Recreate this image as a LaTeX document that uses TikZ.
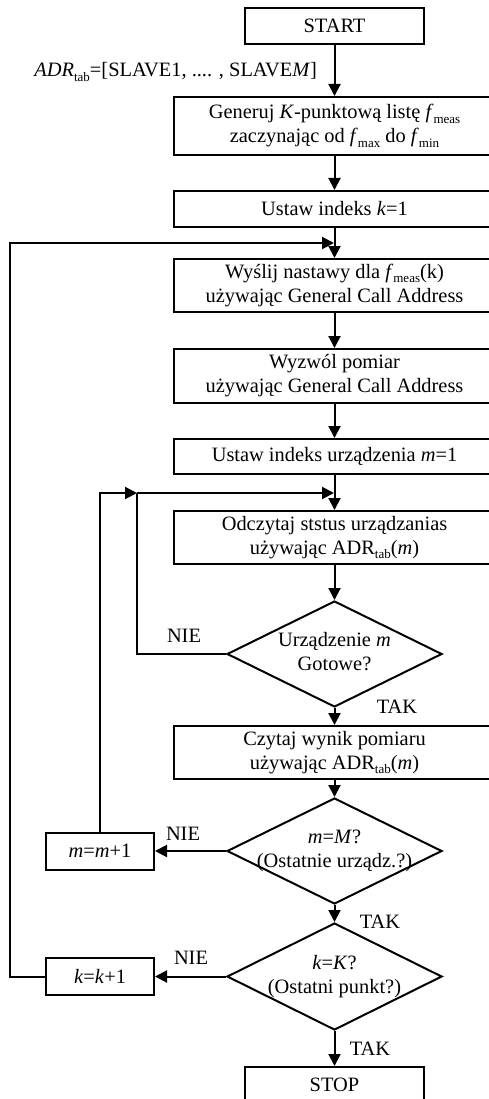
\documentclass[tikz,border=0pt]{standalone}
\usepackage{fontspec}
\setmainfont{Liberation Serif}
\usetikzlibrary{arrows.meta,positioning,shapes.geometric}

% text inside a decision: centred, takes no room, so the diamond keeps its size
\newcommand{\dlines}[1]{\makebox[0pt]{\raisebox{-5pt}[0pt][0pt]{\begin{tabular}{@{}c@{}}#1\end{tabular}}}}
% low, small index as in f_meas
\newcommand{\idx}[1]{\raisebox{-4.5pt}{\fontsize{13}{13}\selectfont #1}}

\begin{document}
\begin{tikzpicture}[x=1pt,y=-1pt,line width=2pt,
	font=\fontsize{20.4}{24}\selectfont,
	box/.style={rectangle,draw,minimum width=322pt,minimum height=36pt,align=center,inner sep=2pt},
	tall/.style={box,minimum height=54pt},
	term/.style={box,minimum width=179pt},
	small/.style={box,minimum width=108pt,minimum height=37pt},
	decision/.style={diamond,draw,minimum width=215pt,minimum height=106pt,inner sep=0pt},
	lbl/.style={inner sep=0pt},
	arr/.style={-{Triangle[length=12pt,width=12pt]}}]
				\useasboundingbox (0,0) rectangle (489,1099);
				\clip (0,0) rectangle (489,1099);

				% main column
				\node[term] (start) at (334.5,26) {START};
				\node[tall,minimum height=58pt] (gen) [below=51pt of start] {Generuj \textit{K}-punktową listę \textit{f}\idx{meas}\\zaczynając od \textit{f}\idx{max} do \textit{f}\idx{min}};
				\node[box] (ustk) [below=34pt of gen] {Ustaw indeks \textit{k}=1};
				\node[tall,minimum height=53pt] (wysl) [below=30pt of ustk] {Wyślij nastawy dla \textit{f}\idx{meas}(k)\\używając General Call Address};
				\node[tall] (wyzw) [below=35pt of wysl] {Wyzwól pomiar\\używając General Call Address};
				\node[box,minimum height=35pt] (ustm) [below=34pt of wyzw] {Ustaw indeks urządzenia \textit{m}=1};
				\node[tall,minimum height=53pt] (odcz) [below=35pt of ustm] {Odczytaj ststus urządzanias\\używając ADR\idx{tab}(\textit{m})};
				\node[decision] (gotowe) [below=35pt of odcz] {\dlines{Urządzenie \textit{m}\\Gotowe?}};
				\node[tall,minimum height=53pt] (czyt) [below=17pt of gotowe] {Czytaj wynik pomiaru\\używając ADR\idx{tab}(\textit{m})};
				\node[decision] (lastm) [below=17pt of czyt] {\dlines{\textit{m}=\textit{M}?\\(Ostatnie urządz.?)}};
				\node[decision,minimum height=107pt] (lastk) [below=17pt of lastm] {\dlines{\textit{k}=\textit{K}?\\(Ostatni punkt?)}};
				\node[term] (stop) [below=35pt of lastk] {STOP};

				% counters on the left
				\node[small] (incm) [left=71pt of lastm] {\textit{m}=\textit{m}+1};
				\node[small] (inck) [left=71pt of lastk] {\textit{k}=\textit{k}+1};

				\node[anchor=base east,inner sep=0pt] (adr) at (318,77) {\textit{ADR}\idx{tab}=[SLAVE1, .... , SLAVE\textit{M}]};

				% loop joints
				\coordinate (jk) at (334,243);
				\coordinate (jm) at (334,493);
				\coordinate (jn) at (137,493);

				\path[arr]
				(start) edge (gen)
				(gen) edge (ustk)
				(ustk) edge (wysl)
				(wysl) edge (wyzw)
				(wyzw) edge (ustm)
				(ustm) edge (odcz)
				(odcz) edge (gotowe)
				(gotowe) edge (czyt)
				(czyt) edge (lastm)
				(lastm) edge (lastk)
				(lastk) edge (stop)
				(lastm.west) edge (incm)
				(lastk.west) edge (inck);

				\draw (gotowe.west) -| (jn);
				\draw[arr] (incm.north) |- (jn);
				\draw[arr] (jn) -- (jm);
				\draw[arr] (inck.west) -- ++(-35,0) |- (jk);

				% branch labels
				\node[lbl] (nie1) at (184,636) {NIE};
				\node[lbl] (tak1) at (397,707) {TAK};
				\node[lbl] (nie2) at (183,834) {NIE};
				\node[lbl] (tak2) at (380,922) {TAK};
				\node[lbl] (nie3) at (191,958) {NIE};
				\node[lbl] (tak3) at (370,1049) {TAK};
			\end{tikzpicture}
\end{document}
